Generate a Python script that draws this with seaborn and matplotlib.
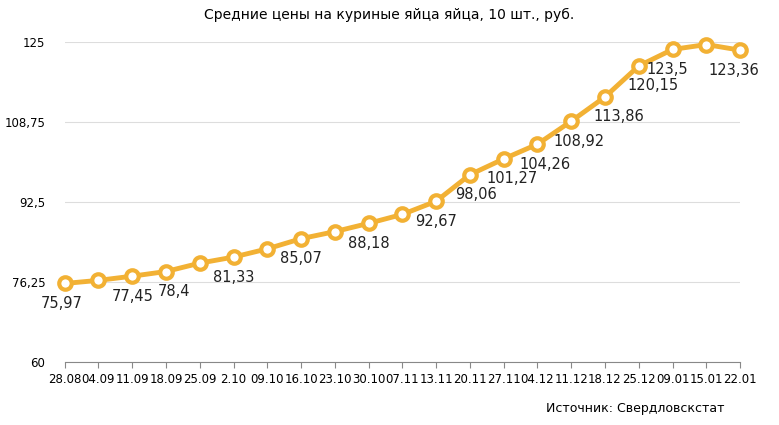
import matplotlib
matplotlib.use("Agg")
import matplotlib.pyplot as plt
import seaborn as sns
import pandas as pd

dates = ["28.08", "04.09", "11.09", "18.09", "25.09", "2.10", "09.10", "16.10", "23.10",
         "30.10", "07.11", "13.11", "20.11", "27.11", "04.12", "11.12", "18.12", "25.12",
         "09.01", "15.01", "22.01"]
prices = [75.97, 76.6, 77.45, 78.4, 80.1, 81.33, 83.0, 85.07, 86.5, 88.18, 90.0, 92.67,
          98.06, 101.27, 104.26, 108.92, 113.86, 120.15, 123.5, 124.5, 123.36]
labelled = [0, 2, 3, 5, 7, 9, 11, 12, 13, 14, 15, 16, 17, 18, 20]
yticks = [60, 76.25, 92.5, 108.75, 125]

df = pd.DataFrame({"x": range(len(dates)), "price": prices})
color = "#F2B134"

fig = plt.figure(figsize=(7.79, 4.25), dpi=100)
ax = fig.add_axes([0.083, 0.148, 0.867, 0.753])
sns.lineplot(data=df, x="x", y="price", ax=ax, color=color, linewidth=3.5,
             marker="o", markersize=9, markerfacecolor="white",
             markeredgecolor=color, markeredgewidth=3, zorder=3, clip_on=False)

dx = {0: -3, 3: 8, 12: 6, 13: 8, 14: 8, 15: 8, 16: 14, 17: 14, 18: -5, 20: -6}
for i in labelled:
    v = prices[i]
    txt = f"{v:g}".replace(".", ",")
    ax.annotate(txt, (i, v), xytext=(dx.get(i, 0), -20), textcoords="offset pixels",
                ha="center", va="center", fontsize=10.5, color="#222222")

ax.set_ylim(60, 125)
ax.set_xlim(0, len(dates) - 1)
ax.set_yticks(yticks)
ax.set_yticklabels([f"{t:g}".replace(".", ",") for t in yticks], fontsize=8.5)
ax.set_xticks(range(len(dates)))
ax.set_xticklabels(dates, fontsize=8.5)
ax.grid(axis="y", color="#dddddd", linewidth=0.8)
ax.set_axisbelow(True)
ax.tick_params(axis="y", length=0, pad=14)
ax.tick_params(axis="x", length=4, color="#888888")
for s in ["top", "right", "left"]:
    ax.spines[s].set_visible(False)
ax.spines["bottom"].set_color("#888888")
ax.set_xlabel("")
ax.set_ylabel("")

fig.text(0.5, 0.955, "Средние цены на куриные яйца яйца, 10 шт., руб.",
         ha="center", fontsize=10)
fig.text(0.93, 0.03, "Источник: Свердловскстат", ha="right", fontsize=9)

fig.savefig("out.png", dpi=100)
